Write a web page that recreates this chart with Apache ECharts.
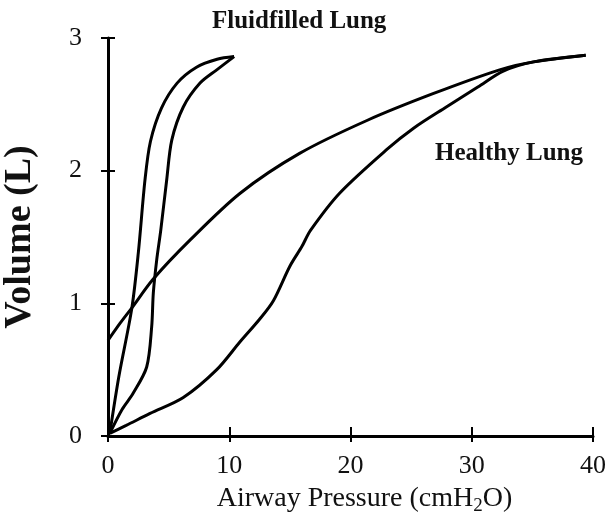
<!DOCTYPE html>
<html>
<head>
<meta charset="utf-8">
<script src="https://cdn.jsdelivr.net/npm/echarts@6/dist/echarts.min.js"></script>
<style>
  html, body { margin: 0; padding: 0; background: #fff; }
  #chart { width: 609px; height: 522px; }
</style>
</head>
<body>
<div id="chart"></div>
<script>
// pressure (cmH2O), volume (L) pairs
const fluidDeflation = [
  [0.15, 0.02], [0.9, 0.45], [1.96, 0.96], [2.5, 1.38], [3.05, 1.93],
  [3.5, 2.22], [4.4, 2.47], [5.7, 2.66], [7.3, 2.78], [9.0, 2.84], [10.4, 2.86]
]
const fluidInflation = [
  [0.15, 0.02], [1.16, 0.2], [2.06, 0.32], [3.19, 0.52], [3.6, 0.82],
  [3.74, 1.08], [4.02, 1.33], [4.35, 1.55], [4.84, 1.93], [5.26, 2.23],
  [6.21, 2.48], [7.59, 2.66], [8.97, 2.76], [10.4, 2.86]
]
const healthyDeflation = [
  [0, 0.72], [1, 0.85], [2, 0.97], [3.7, 1.18], [6.8, 1.48], [10.9, 1.83],
  [15.8, 2.13], [21.4, 2.38], [26.8, 2.58], [32.3, 2.76], [35.1, 2.82], [39.4, 2.87]
]
const healthyInflation = [
  [0.15, 0.02], [1.5, 0.08], [3.47, 0.17], [6.21, 0.29], [8.97, 0.5],
  [10.89, 0.71], [12.5, 0.88], [13.64, 1.02], [15.0, 1.28], [16.0, 1.43],
  [16.7, 1.55], [19.1, 1.83], [23.0, 2.16], [25.2, 2.32], [27.9, 2.48],
  [30.5, 2.63], [32.6, 2.75], [35.1, 2.82], [39.4, 2.87]
]
const xTicks = [0, 10, 20, 30, 40]
const yTicks = [0, 1, 2, 3]

const serif = "'Liberation Serif', 'Times New Roman', serif"
const ink = '#111'

const chart = echarts.init(document.getElementById('chart'))

function curve(name, data) {
  return {
    name: name,
    type: 'line',
    data: data,
    smooth: 0.3,
    showSymbol: false,
    lineStyle: { color: '#000', width: 3 },
    z: 3
  }
}

const xBase = {
  type: 'value',
  min: xTicks[0],
  max: xTicks[xTicks.length - 1],
  interval: 10,
  splitLine: { show: false }
}
const yBase = {
  type: 'value',
  min: yTicks[0],
  max: yTicks[yTicks.length - 1],
  interval: 1,
  splitLine: { show: false }
}

chart.setOption({
  animation: false,
  backgroundColor: '#fff',
  grid: { left: 108, right: 16, top: 38, bottom: 86, containLabel: false, outerBoundsMode: 'none' },
  xAxis: [
    Object.assign({}, xBase, {
      axisLine: { lineStyle: { color: '#000', width: 3 } },
      axisTick: { length: 6, lineStyle: { color: '#000', width: 2 } },
      axisLabel: { color: ink, fontFamily: serif, fontSize: 26, margin: 17 },
      name: '{a|Airway Pressure (cmH}{sub|2}{a|O)}',
      nameLocation: 'middle',
      nameGap: 46,
      nameTextStyle: {
        padding: [0, 0, 0, 28],
        rich: {
          a: { fontFamily: serif, fontSize: 28, color: ink, lineHeight: 34, verticalAlign: 'middle' },
          sub: { fontFamily: serif, fontSize: 19, color: ink, lineHeight: 34, verticalAlign: 'bottom' }
        }
      }
    }),
    Object.assign({}, xBase, {
      position: 'bottom',
      axisLine: { show: false },
      axisTick: { inside: true, length: 9, lineStyle: { color: '#000', width: 2 } },
      axisLabel: { show: false }
    })
  ],
  yAxis: [
    Object.assign({}, yBase, {
      axisLine: { lineStyle: { color: '#000', width: 3 } },
      axisTick: { length: 7, lineStyle: { color: '#000', width: 2 } },
      axisLabel: { color: ink, fontFamily: serif, fontSize: 26, margin: 26 },
      name: 'Volume (L)',
      nameLocation: 'middle',
      nameGap: 69,
      nameTextStyle: { fontFamily: serif, fontSize: 38, fontWeight: 'bold', color: ink }
    }),
    Object.assign({}, yBase, {
      position: 'left',
      axisLine: { show: false },
      axisTick: { inside: true, length: 7, lineStyle: { color: '#000', width: 2 } },
      axisLabel: { show: false }
    })
  ],
  graphic: [
    {
      type: 'text',
      left: 212,
      top: 9,
      style: { text: 'Fluidfilled Lung', font: 'bold 25px ' + serif, fill: ink }
    },
    {
      type: 'text',
      left: 435,
      top: 141,
      style: { text: 'Healthy Lung', font: 'bold 25px ' + serif, fill: ink }
    }
  ],
  series: [
    curve('Fluidfilled deflation', fluidDeflation),
    curve('Fluidfilled inflation', fluidInflation),
    curve('Healthy deflation', healthyDeflation),
    curve('Healthy inflation', healthyInflation)
  ]
})
</script>
</body>
</html>
